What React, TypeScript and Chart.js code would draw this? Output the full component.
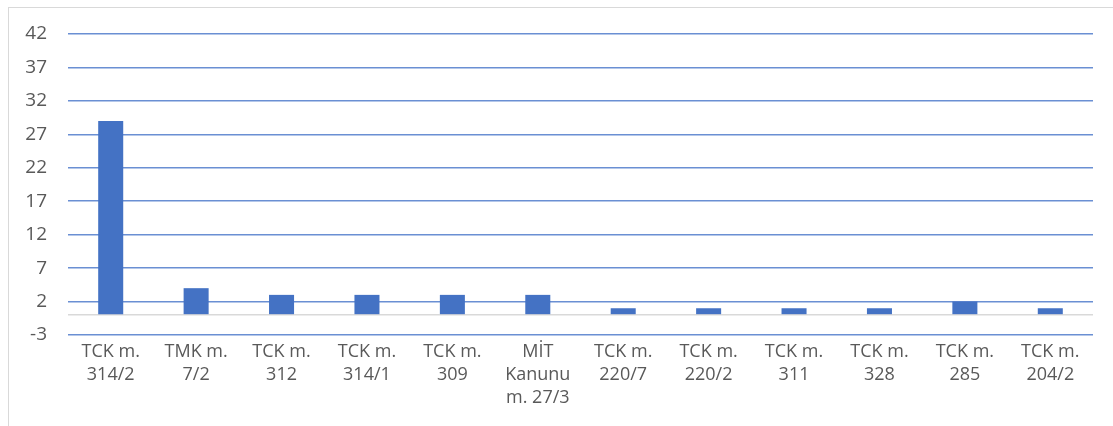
import React, { useEffect, useRef } from "react";
import { Chart, registerables } from "chart.js";

Chart.register(...registerables);

const categories: string[][] = [
  ["TCK m.", "314/2"],
  ["TMK m.", "7/2"],
  ["TCK m.", "312"],
  ["TCK m.", "314/1"],
  ["TCK m.", "309"],
  ["MİT", "Kanunu", "m. 27/3"],
  ["TCK m.", "220/7"],
  ["TCK m.", "220/2"],
  ["TCK m.", "311"],
  ["TCK m.", "328"],
  ["TCK m.", "285"],
  ["TCK m.", "204/2"],
];

const values: number[] = [29, 4, 3, 3, 3, 3, 1, 1, 1, 1, 2, 1];

const yTickValues: number[] = [-3, 2, 7, 12, 17, 22, 27, 32, 37, 42];

const FONT = "'Open Sans', 'DejaVu Sans', sans-serif";
const TEXT = "#595959";

export default function App() {
  const ref = useRef<HTMLCanvasElement | null>(null);

  useEffect(() => {
    if (!ref.current) return;
    const chart = new Chart(ref.current, {
      type: "bar",
      data: {
        labels: categories,
        datasets: [
          {
            data: values,
            backgroundColor: "#4472C4",
            borderWidth: 0,
            categoryPercentage: 1,
            barPercentage: 0.293,
          },
        ],
      },
      options: {
        animation: false,
        responsive: false,
        devicePixelRatio: 1,
        layout: {
          autoPadding: false,
          padding: { top: 26, right: 20, left: 0, bottom: 0 },
        },
        plugins: {
          legend: { display: false },
          tooltip: { enabled: false },
        },
        scales: {
          x: {
            grid: { display: false, drawTicks: false },
            border: { display: false },
            ticks: {
              color: TEXT,
              font: { family: FONT, size: 18, lineHeight: 1.28 },
              padding: 5,
              maxRotation: 0,
              autoSkip: false,
            },
            afterFit: (s: any) => {
              s.height = 89;
              s.paddingLeft = 0;
              s.paddingRight = 0;
            },
          },
          y: {
            min: -3,
            max: 42,
            grid: {
              drawTicks: false,
              color: (ctx: any) =>
                ctx.tick && ctx.tick.value === 0 ? "#d9d9d9" : "#6a8fd3",
              lineWidth: 1.5,
            },
            border: { display: false },
            ticks: {
              color: TEXT,
              font: { family: FONT, size: 19 },
              padding: 21,
              callback: (v: any) => (v === 0 ? "" : String(v)),
            },
            afterBuildTicks: (s: any) => {
              const t = [...yTickValues, 0].sort((a, b) => a - b);
              s.ticks = t.map((v) => ({ value: v }));
            },
            afterFit: (s: any) => {
              s.width = 59;
              s.paddingTop = 0;
              s.paddingBottom = 0;
            },
          },
        },
      },
    });
    return () => chart.destroy();
  }, []);

  return (
    <div
      style={{
        position: "absolute",
        left: 8,
        top: 7,
        width: 1105,
        height: 419,
        borderTop: "1px solid #d9d9d9",
        borderLeft: "1px solid #d9d9d9",
        overflow: "hidden",
      }}
    >
      <canvas
        ref={ref}
        width={1104}
        height={416}
        style={{ position: "absolute", left: 0, top: 0, width: 1104, height: 416 }}
      />
    </div>
  );
}
